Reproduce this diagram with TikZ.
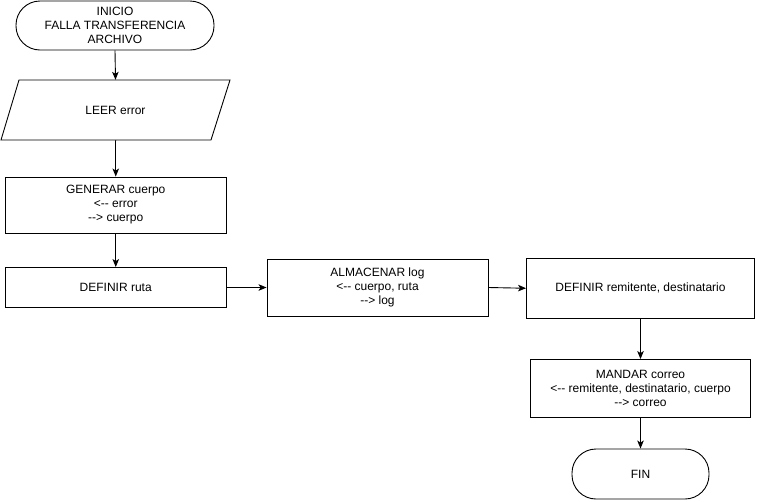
\documentclass[tikz,border=0pt]{standalone}
\usepackage{fontspec}
\setmainfont{Liberation Sans}
\usetikzlibrary{arrows.meta,calc}
\begin{document}
\begin{tikzpicture}[x=1pt,y=-1pt,
  every node/.style={font=\fontsize{12}{14}\selectfont, align=center, inner sep=0pt},
  box/.style={draw=black, line width=0.9pt, fill=white},
  terminal/.style={draw=black, line width=0.9pt, fill=white, rounded corners=24pt},
  flow/.style={draw=black, line width=0.9pt, -{Stealth[length=8pt,width=6.5pt,inset=2pt]}}]
  \useasboundingbox (0,0) rectangle (757,501);

  % start terminal
  \node[terminal, minimum width=198pt, minimum height=49pt] (inicio) at (115,25.5)
    {INICIO\\FALLA TRANSFERENCIA\\ARCHIVO};

  % input parallelogram
  \node[minimum width=229pt, minimum height=60pt] (leer) at (115.5,110) {};
  \draw[line width=0.9pt, fill=white] (19,80) -- (230,80) -- (211,140) -- (1,140) -- cycle;
  \node at (leer.center) {LEER error};

  % process boxes
  \node[box, minimum width=220.5pt, minimum height=56pt] (generar) at (115.75,205)
    {GENERAR cuerpo\\<-{}- error\\-{}-> cuerpo};
  \node[box, minimum width=220.5pt, minimum height=40pt] (ruta) at (115.75,287.5)
    {DEFINIR ruta};
  \node[box, minimum width=221pt, minimum height=57pt] (almacenar) at (377.5,287.5)
    {ALMACENAR log\\<-{}- cuerpo, ruta\\-{}-> log};
  \node[box, minimum width=228pt, minimum height=59.5pt] (remitente) at (640.5,288.25)
    {DEFINIR remitente, destinatario};
  \node[box, minimum width=220pt, minimum height=57.5pt] (mandar) at (640.5,388.25)
    {MANDAR correo\\<-{}- remitente, destinatario, cuerpo\\-{}-> correo};

  % end terminal
  \node[terminal, minimum width=137pt, minimum height=50pt] (fin) at (640.5,474) {FIN};

  % connectors
  \draw[flow] (inicio.south) -- (leer.north);
  \draw[flow] (leer.south) -- (leer.south -| generar.north) -- (generar.north);
  \draw[flow] (generar.south) -- (ruta.north);
  \draw[flow] (ruta.east) -- (almacenar.west);
  \draw[flow] (almacenar.east) -- (remitente.west);
  \draw[flow] (remitente.south) -- (mandar.north);
  \draw[flow] (mandar.south) -- (fin.north);
\end{tikzpicture}
\end{document}
